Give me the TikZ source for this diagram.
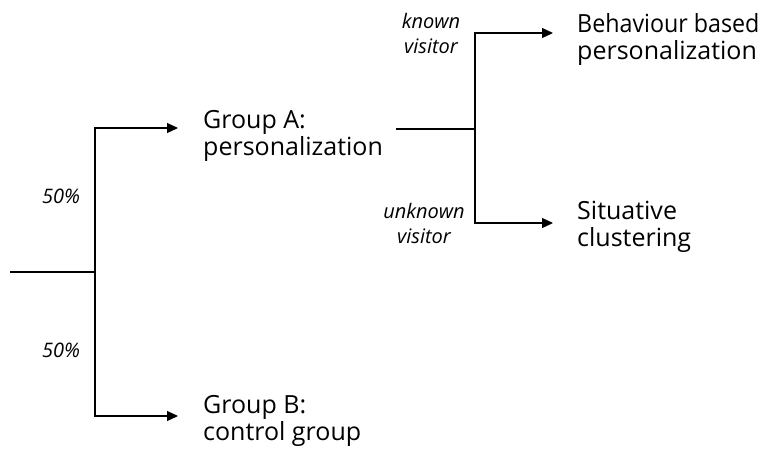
\documentclass[tikz,border=0pt]{standalone}
\usepackage{fontspec}
\setmainfont{Open Sans}
\usetikzlibrary{arrows.meta}
\begin{document}
\begin{tikzpicture}[x=1pt,y=-1pt,
  wire/.style={line width=1.2pt},
  branch/.style={line width=1.2pt,-{Triangle[length=11pt,width=10pt]}},
  label/.style={font=\fontsize{25}{27}\selectfont, align=left, anchor=base west, inner sep=0pt},
  note/.style={font=\fontsize{20}{25}\selectfont\itshape, align=center, anchor=base, inner sep=0pt},
]
\useasboundingbox (0,0) rectangle (765,448);

% first split: half to personalization, half to control
\coordinate (in) at (10,272);
\coordinate (j1) at (95,272);
\coordinate (toA) at (178,128);
\coordinate (toB) at (178,416);
\draw[wire] (in) -- (j1);
\draw[branch] (j1) |- (toA);
\draw[branch] (j1) |- (toB);

% multi-line labels are placed by the baseline of their last line
\node[label] (ga) at (203,155) {Group A:\\personalization};
\node[label] (gb) at (203,440) {Group B:\\control group};
\node[note] (p1) at (61,203) {50\%};
\node[note] (p2) at (61,357) {50\%};

% second split inside group A
\coordinate (in2) at (396,129);
\coordinate (j2) at (475,129);
\coordinate (toK) at (553,33);
\coordinate (toU) at (553,223);
\draw[wire] (in2) -- (j2);
\draw[branch] (j2) |- (toK);
\draw[branch] (j2) |- (toU);

\node[note] (kv) at (431,53) {known\\visitor};
\node[note] (uv) at (424,243) {unknown\\visitor};
\node[label] (bb) at (577,59) {\scalebox{0.93}[1]{Behaviour based}\\personalization};
\node[label] (sc) at (577,246) {Situative\\clustering};
\end{tikzpicture}
\end{document}
